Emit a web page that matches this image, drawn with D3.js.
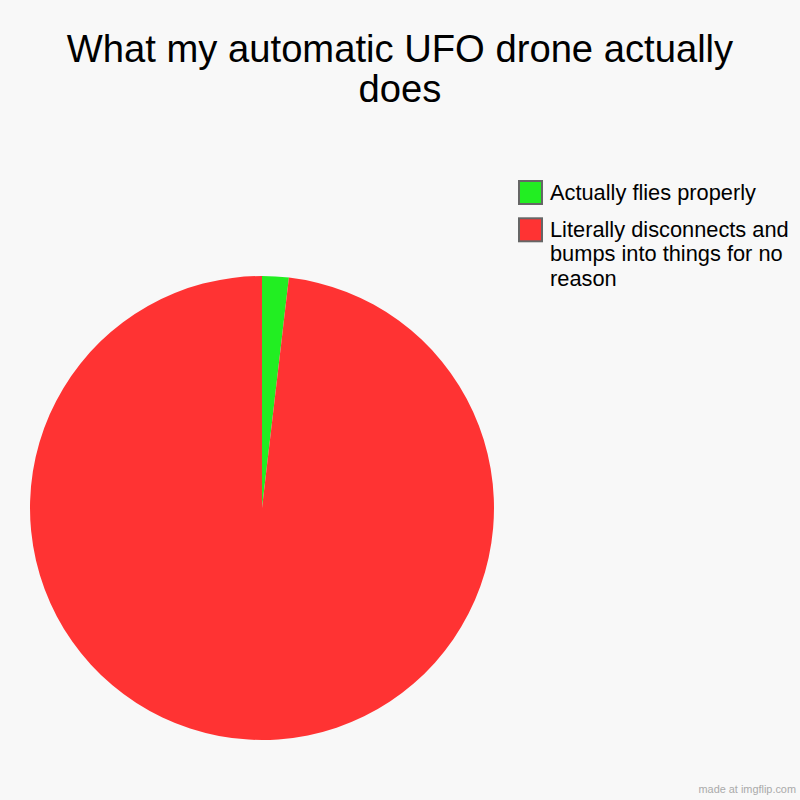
<!DOCTYPE html>
<html><head><meta charset="utf-8">
<script src="https://cdn.jsdelivr.net/npm/d3@7"></script>
<style>html,body{margin:0;padding:0;background:#f8f8f8;}svg{display:block;}</style>
</head><body>
<script>
const titleLines = ["What my automatic UFO drone actually", "does"];
const categories = ["Actually flies properly", "Literally disconnects and bumps into things for no reason"];
const legendLines = [["Actually flies properly"], ["Literally disconnects and", "bumps into things for no", "reason"]];
const values = [1.85, 98.15];
const colors = ["#22ee22", "#ff3333"];
const footer = "made at imgflip.com";

const W = 800, H = 800;
const svg = d3.select("body").append("svg").attr("width", W).attr("height", H);
svg.append("rect").attr("width", W).attr("height", H).attr("fill", "#f8f8f8");

const font = "Liberation Sans, Arial, sans-serif";
svg.append("g").selectAll("text").data(titleLines).join("text")
  .attr("x", 400).attr("y", (d, i) => 62 + i * 40)
  .attr("text-anchor", "middle").attr("font-family", font).attr("font-size", 38.2)
  .attr("fill", "#000").text(d => d);

const cx = 262, cy = 508, r = 232;
const pie = d3.pie().sort(null).value(d => d)(values);
const arc = d3.arc().innerRadius(0).outerRadius(r);
svg.append("g").attr("transform", `translate(${cx},${cy})`)
  .selectAll("path").data(pie).join("path")
  .attr("d", arc).attr("fill", (d, i) => colors[i]);

const lg = svg.append("g");
const boxY = [181, 218.3];
const textY = [200, 236.7];
categories.forEach((c, i) => {
  lg.append("rect").attr("x", 519).attr("y", boxY[i]).attr("width", 23).attr("height", 23)
    .attr("fill", colors[i]).attr("stroke", "#666").attr("stroke-width", 2);
  lg.append("text").attr("font-family", font).attr("font-size", 21.8).attr("fill", "#000")
    .selectAll("tspan").data(legendLines[i]).join("tspan")
    .attr("x", 550).attr("y", (d, j) => textY[i] + j * 24.5).text(d => d);
});

svg.append("text").attr("x", 796).attr("y", 793).attr("text-anchor", "end")
  .attr("font-family", font).attr("font-size", 10.9).attr("fill", "#aaa").text(footer);
</script>
</body></html>
